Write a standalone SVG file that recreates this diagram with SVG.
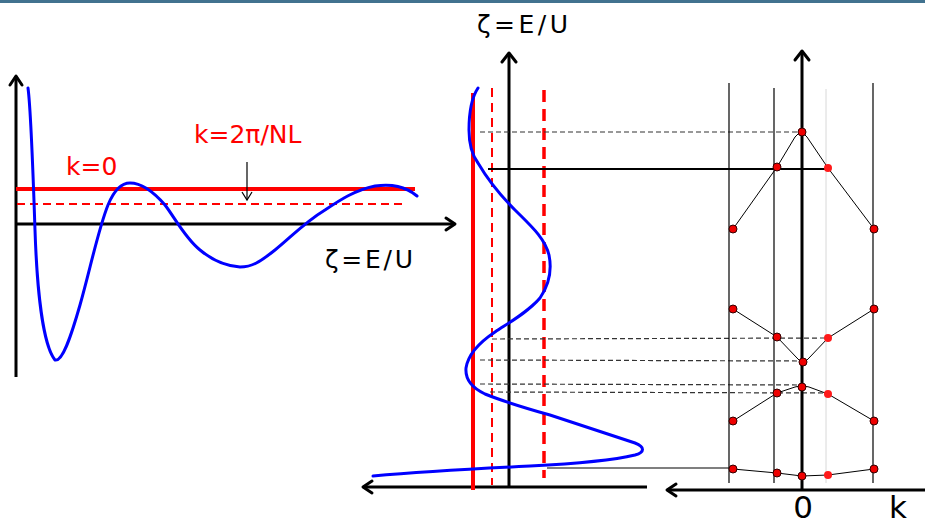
<svg xmlns="http://www.w3.org/2000/svg" width="925" height="525" viewBox="0 0 925 525">
<style>
.ax{stroke:#000;stroke-width:3;fill:none}
.ah{stroke:#000;stroke-width:3;fill:none;stroke-linecap:round;stroke-linejoin:round}
.thin{stroke:#000;stroke-width:1.2;fill:none}
.band{stroke:#000;stroke-width:1;fill:none;stroke-linejoin:round}
.dash{stroke:#333;stroke-width:1.2;stroke-dasharray:5,3;fill:none}
.blue{stroke:#0000ff;stroke-width:3;fill:none;stroke-linecap:round}
.red{stroke:#ff0000;fill:none}
.dot{fill:#ee0000;stroke:#330000;stroke-width:1}
.dotl{fill:#ff1a1a;stroke:none}
.t{font-family:"DejaVu Sans",Verdana,sans-serif;font-size:25px}
.big{font-family:"DejaVu Sans",Verdana,sans-serif;font-size:31px}
</style>
<rect x="0" y="0" width="925" height="3" fill="#41728f"/>
<g id="left-panel">
  <line class="ax" x1="16" y1="377" x2="16" y2="76"/>
  <polyline class="ah" points="10,85 16,76 22,85"/>
  <line class="ax" x1="16" y1="224" x2="454" y2="224"/>
  <polyline class="ah" points="446,218 455,224 446,230"/>
  <line class="red" stroke-width="4" x1="16" y1="189" x2="415" y2="189"/>
  <line class="red" stroke-width="2" stroke-dasharray="8,5" x1="17" y1="204" x2="404" y2="204"/>
  <path class="blue" d="M28,88 C31,110 33,170 35,230 C37,290 43,345 55,360 C62,362 70,340 80,305 C90,270 98,230 108,205 C115,188 122,183 130,183 C140,183 152,190 165,205 C175,218 185,238 200,250 C212,260 225,266 240,267 C252,267 260,262 275,250 C290,238 305,222 325,210 C340,200 355,190 375,186 C392,184 405,186 417,196"/>
  <line class="thin" x1="247" y1="162" x2="247" y2="200"/>
  <polyline class="thin" points="242,192 247,200 252,192"/>
  <text class="t" x="66" y="175" fill="#ff0000">k=0</text>
  <text class="t" x="194" y="143" fill="#ff0000">k=2π/NL</text>
  <text class="t" x="325" y="268" fill="#000" textLength="88" lengthAdjust="spacing">ζ=E/U</text>
</g>
<g id="middle-panel">
  <text class="t" x="477" y="33" fill="#000" textLength="91" lengthAdjust="spacing">ζ=E/U</text>
  <line class="ax" x1="509" y1="487" x2="509" y2="53"/>
  <polyline class="ah" points="502,62 509,53 516,62"/>
  <line class="ax" x1="647" y1="487" x2="363" y2="487"/>
  <polyline class="ah" points="372,481 363,487 372,493"/>
  <line class="red" stroke-width="4" x1="473" y1="93" x2="473" y2="490"/>
  <line class="red" stroke-width="2" stroke-dasharray="9,6" x1="492" y1="88" x2="492" y2="485"/>
  <line class="red" stroke-width="3.5" stroke-dasharray="12,7" x1="544" y1="90" x2="544" y2="478"/>
  <path class="blue" d="M478,88 C472,97 469,110 469,130 C469,145 472,155 478,163 C488,180 500,195 515,210 C530,225 545,238 549,255 C552,270 549,285 540,298 C528,312 510,322 495,332 C480,342 468,355 466,368 C465,380 472,388 485,394 C500,400 525,408 550,415 C580,425 610,435 635,443 C645,447 645,452 635,455 C610,461 570,464 530,466 C490,468 430,471 373,476"/>
</g>
<g id="connectors">
  <line class="dash" x1="480" y1="132" x2="800" y2="132"/>
  <line stroke="#000" stroke-width="2" x1="488" y1="169" x2="827" y2="169"/>
  <line class="dash" x1="492" y1="339" x2="827" y2="338"/>
  <line class="dash" x1="480" y1="360" x2="802" y2="361"/>
  <line class="dash" x1="480" y1="384" x2="801" y2="385"/>
  <line class="dash" x1="490" y1="392" x2="828" y2="393"/>
  <line stroke="#000" stroke-width="1.2" x1="547" y1="468" x2="732" y2="468"/>
</g>
<g id="right-panel">
  <line class="thin" x1="729" y1="83" x2="729" y2="483"/>
  <line class="thin" x1="774" y1="88" x2="774" y2="483"/>
  <line class="thin" x1="873" y1="83" x2="873" y2="483"/>
  <line stroke="#d8d8d8" stroke-width="1" x1="826" y1="89" x2="826" y2="483"/>
  <line class="ax" x1="802" y1="490" x2="802" y2="51"/>
  <polyline class="ah" points="795,60 802,51 809,60"/>
  <line class="ax" x1="925" y1="490" x2="667" y2="490"/>
  <polyline class="ah" points="676,484 667,490 676,496"/>
  <text class="big" x="803" y="518" text-anchor="middle">0</text>
  <text class="big" x="898" y="518" text-anchor="middle">k</text>
</g>
<g id="band-1">
  <path class="band" d="M733,229 L777,167 L795,137 Q801,129 807,137 L828,168 L874,229"/>
  <circle class="dot" cx="802" cy="132" r="4"/>
  <circle class="dot" cx="777" cy="167" r="4"/>
  <circle class="dotl" cx="828" cy="168" r="4"/>
  <circle class="dot" cx="733" cy="229" r="4"/>
  <circle class="dot" cx="874" cy="229" r="4"/>
</g>
<g id="band-2">
  <path class="band" d="M733,309 L777,337 L797,358 Q803,366 809,358 L828,338 L874,309"/>
  <circle class="dot" cx="733" cy="309" r="4"/>
  <circle class="dot" cx="777" cy="337" r="4"/>
  <circle class="dotl" cx="828" cy="338" r="4"/>
  <circle class="dot" cx="803" cy="362" r="4"/>
  <circle class="dot" cx="874" cy="309" r="4"/>
</g>
<g id="band-3">
  <path class="band" d="M733,421 L777,393 L795,387 Q802,384 809,387 L828,394 L874,421"/>
  <circle class="dot" cx="802" cy="387" r="4"/>
  <circle class="dot" cx="777" cy="393" r="4"/>
  <circle class="dotl" cx="828" cy="394" r="4"/>
  <circle class="dot" cx="733" cy="421" r="4"/>
  <circle class="dot" cx="874" cy="421" r="4"/>
</g>
<g id="band-4">
  <path class="band" d="M733,469 L777,473 L802,476 L828,475 L874,469"/>
  <circle class="dot" cx="733" cy="469" r="4"/>
  <circle class="dot" cx="777" cy="473" r="4"/>
  <circle class="dot" cx="802" cy="476" r="4"/>
  <circle class="dotl" cx="828" cy="475" r="4"/>
  <circle class="dot" cx="874" cy="469" r="4"/>
</g>
</svg>
